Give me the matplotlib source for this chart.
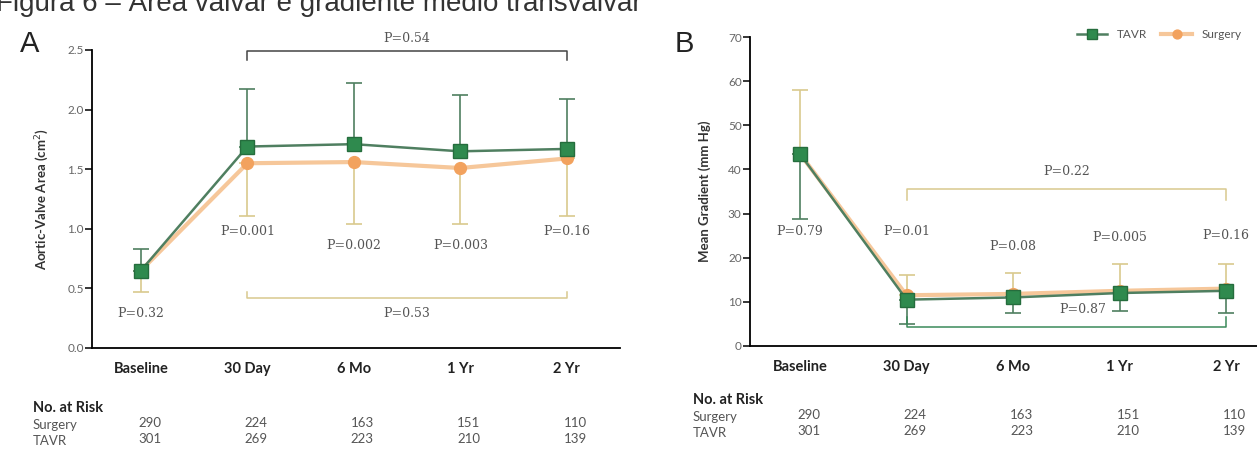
import matplotlib
matplotlib.use("Agg")
import matplotlib.pyplot as plt
import matplotlib.transforms as mtransforms
import numpy as np

# ---- data ----
times = ["Baseline", "30 Day", "6 Mo", "1 Yr", "2 Yr"]

# panel A: aortic-valve area (cm2)
area_tavr = [0.65, 1.69, 1.71, 1.65, 1.67]
area_tavr_hi = [0.83, 2.17, 2.22, 2.12, 2.09]
area_surg = [0.65, 1.55, 1.56, 1.51, 1.59]
area_surg_lo = [0.47, 1.11, 1.04, 1.04, 1.11]
area_p = ["P=0.32", "P=0.001", "P=0.002", "P=0.003", "P=0.16"]
area_p_y = [0.29, 0.98, 0.86, 0.86, 0.98]

# panel B: mean gradient (mm Hg)
grad_tavr = [43.5, 10.5, 11.0, 12.0, 12.5]
grad_tavr_lo = [28.8, 5.0, 7.5, 8.0, 7.5]
grad_surg = [43.5, 11.5, 11.8, 12.5, 13.0]
grad_surg_hi = [58.0, 16.0, 16.5, 18.5, 18.5]
grad_p = ["P=0.79", "P=0.01", "P=0.08", "P=0.005", "P=0.16"]
grad_p_y = [26.0, 26.0, 22.5, 24.5, 25.0]

risk_surg = [290, 224, 163, 151, 110]
risk_tavr = [301, 269, 223, 210, 139]

GREEN = "#2f8a4e"
GREEN_LINE = "#4f7f60"
ORANGE = "#f2a25e"
ORANGE_LINE = "#f6c79a"
TAN = "#d9c98e"

plt.rcParams["font.family"] = ["Lato", "DejaVu Sans"]

W, H = 1257, 454
fig = plt.figure(figsize=(W / 100, H / 100), dpi=100)

x = np.arange(len(times))


def px_axes(left, top, right, bottom):
    return fig.add_axes([left / W, 1 - bottom / H, (right - left) / W, (bottom - top) / H])


def style(ax):
    ax.spines["top"].set_visible(False)
    ax.spines["right"].set_visible(False)
    ax.spines["left"].set_linewidth(1.3)
    ax.spines["bottom"].set_linewidth(1.3)
    ax.tick_params(axis="y", length=5, width=1.1, labelsize=8.5, labelcolor="#666666", pad=1)
    ax.tick_params(axis="x", length=0, pad=10)
    ax.set_xticks(x)
    ax.set_xticklabels(times, fontsize=10.5, fontweight="bold", color="#222222")


def risk_table(ax, xlab, y0):
    tr = mtransforms.blended_transform_factory(ax.transData, fig.transFigure)
    fig.text(xlab / W, 1 - y0 / H, "No. at Risk", fontsize=10.5, fontweight="bold",
             color="#222222", va="center")
    fig.text(xlab / W, 1 - (y0 + 17) / H, "Surgery", fontsize=9.5, color="#555555", va="center")
    fig.text(xlab / W, 1 - (y0 + 33) / H, "TAVR", fontsize=9.5, color="#555555", va="center")
    for i in range(len(times)):
        ax.text(x[i] + 0.08, 1 - (y0 + 15) / H, str(risk_surg[i]), transform=tr,
                fontsize=9.5, color="#555555", ha="center", va="center")
        ax.text(x[i] + 0.08, 1 - (y0 + 31) / H, str(risk_tavr[i]), transform=tr,
                fontsize=9.5, color="#555555", ha="center", va="center")


# ---------------- panel A ----------------
axA = px_axes(92, 50, 620, 348)
zeros = np.zeros(len(x))
axA.errorbar(x, area_surg, yerr=[np.array(area_surg) - np.array(area_surg_lo), zeros],
             fmt="none", ecolor=TAN, elinewidth=1.2, capsize=6, capthick=1.2, zorder=2)
axA.errorbar(x, area_tavr, yerr=[zeros, np.array(area_tavr_hi) - np.array(area_tavr)],
             fmt="none", ecolor=GREEN_LINE, elinewidth=1.2, capsize=6, capthick=1.2, zorder=2)
axA.plot(x, area_surg, color=ORANGE_LINE, lw=3, marker="o", ms=8.5,
         mfc=ORANGE, mec=ORANGE, zorder=3)
axA.plot(x, area_tavr, color=GREEN_LINE, lw=1.8, marker="s", ms=10,
         mfc=GREEN, mec="#256d3d", zorder=4)
axA.set_xlim(-0.46, 4.5)
axA.set_ylim(0, 2.5)
axA.set_yticks([0, 0.5, 1.0, 1.5, 2.0, 2.5])
axA.set_yticklabels(["0.0", "0.5", "1.0", "1.5", "2.0", "2.5"])
style(axA)
axA.set_ylabel("Aortic-Valve Area (cm$^2$)", fontsize=9.5, fontweight="bold",
               color="#333333", labelpad=12)

for i in range(len(x)):
    axA.text(x[i], area_p_y[i], area_p[i], fontsize=9, color="#555555",
             ha="center", va="center", family=["DejaVu Serif"])

# top bracket P=0.54
axA.plot([1, 1, 4, 4], [2.42, 2.49, 2.49, 2.42], color="#444444", lw=1.1, clip_on=False)
axA.text(2.5, 2.6, "P=0.54", fontsize=9, color="#555555", ha="center", va="center",
         family=["DejaVu Serif"])
# bottom bracket P=0.53
axA.plot([1, 1, 4, 4], [0.47, 0.42, 0.42, 0.47], color=TAN, lw=1.1)
axA.text(2.5, 0.29, "P=0.53", fontsize=9, color="#555555", ha="center", va="center",
         family=["DejaVu Serif"])

fig.text(30 / W, 1 - 44 / H, "A", fontsize=21, color="#222222", ha="center", va="center",
         family=["Liberation Sans"])
risk_table(axA, 33, 408)

# ---------------- panel B ----------------
axB = px_axes(750, 37, 1257, 346)
axB.errorbar(x, grad_surg, yerr=[zeros, np.array(grad_surg_hi) - np.array(grad_surg)],
             fmt="none", ecolor=TAN, elinewidth=1.2, capsize=6, capthick=1.2, zorder=2)
axB.errorbar(x, grad_tavr, yerr=[np.array(grad_tavr) - np.array(grad_tavr_lo), zeros],
             fmt="none", ecolor=GREEN_LINE, elinewidth=1.2, capsize=6, capthick=1.2, zorder=2)
axB.plot(x, grad_surg, color=ORANGE_LINE, lw=3, marker="o", ms=8.5,
         mfc=ORANGE, mec=ORANGE, zorder=3, label="Surgery")
axB.plot(x, grad_tavr, color=GREEN_LINE, lw=1.8, marker="s", ms=10,
         mfc=GREEN, mec="#256d3d", zorder=4, label="TAVR")
axB.set_xlim(-0.47, 4.29)
axB.set_ylim(0, 70)
axB.set_yticks(np.arange(0, 71, 10))
style(axB)
axB.set_ylabel("Mean Gradient (mm Hg)", fontsize=9.5, fontweight="bold",
               color="#333333", labelpad=12)

for i in range(len(x)):
    axB.text(x[i], grad_p_y[i], grad_p[i], fontsize=9, color="#555555",
             ha="center", va="center", family=["DejaVu Serif"])

# upper bracket P=0.22
axB.plot([1, 1, 4, 4], [33.0, 35.5, 35.5, 33.0], color=TAN, lw=1.1)
axB.text(2.5, 39.5, "P=0.22", fontsize=9, color="#555555", ha="center", va="center",
         family=["DejaVu Serif"])
# lower bracket P=0.87
axB.plot([1, 1, 4, 4], [6.5, 4.3, 4.3, 6.5], color="#3a8a5a", lw=1.1)
axB.text(2.65, 8.3, "P=0.87", fontsize=9, color="#555555", ha="center", va="center",
         family=["DejaVu Serif"])

handles, labels = axB.get_legend_handles_labels()
axB.legend(handles[::-1], labels[::-1], loc="upper right", bbox_to_anchor=(0.99, 1.06),
           ncol=2, frameon=False, fontsize=8.5, handlelength=2.6, columnspacing=1.2,
           markerscale=0.75, labelcolor="#555555")

fig.text(684 / W, 1 - 44 / H, "B", fontsize=21, color="#222222", ha="center", va="center",
         family=["Liberation Sans"])
risk_table(axB, 693, 400)

# caption, cut off at the top edge as in the scan
fig.text(-0.003, 1 - 11 / H, "Figura 6 – Área valvar e gradiente médio transvalvar",
         fontsize=20, color="#333333", va="baseline", family=["Liberation Sans"])

fig.savefig("out.png", dpi=100)
